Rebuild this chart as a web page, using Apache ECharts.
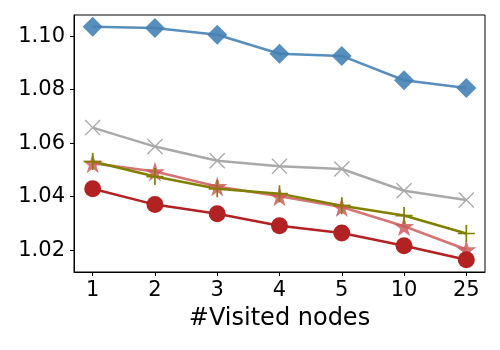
<!DOCTYPE html>
<html>
<head>
<meta charset="utf-8">
<script src="https://cdn.jsdelivr.net/npm/echarts@6/dist/echarts.min.js"></script>
<style>
  html, body { margin: 0; padding: 0; background: #fff; }
  #main { width: 500px; height: 350px; }
</style>
</head>
<body>
<div id="main"></div>
<script>
// x categories (evenly spaced positions)
var categories = ['1', '2', '3', '4', '5', '10', '25'];
var yTicks = [1.02, 1.04, 1.06, 1.08, 1.10];

// series values
var blueDiamond = [1.1035, 1.1030, 1.1005, 1.0934, 1.0926, 1.0835, 1.0806];
var grayCross   = [1.0658, 1.0587, 1.0534, 1.0513, 1.0503, 1.0422, 1.0387];
var pinkStar    = [1.0525, 1.0494, 1.0438, 1.0401, 1.0361, 1.0289, 1.0202];
var olivePlus   = [1.0531, 1.0475, 1.0429, 1.0411, 1.0366, 1.0329, 1.0262];
var redCircle   = [1.0429, 1.0370, 1.0336, 1.0291, 1.0264, 1.0216, 1.0164];

var STAR = 'path://M50,0 L61,35 L98,35 L68,57 L79,91 L50,70 L21,91 L32,57 L2,35 L39,35 Z';
var CROSS = 'path://M0,6 L6,0 L50,44 L94,0 L100,6 L56,50 L100,94 L94,100 L50,56 L6,100 L0,94 L44,50 Z';
var PLUS = 'path://M45,0 L55,0 L55,45 L100,45 L100,55 L55,55 L55,100 L45,100 L45,55 L0,55 L0,45 L45,45 Z';

function pairs(vals) {
  return vals.map(function (v, i) { return [i, v]; });
}

function line(vals, color, symbol, size) {
  return {
    type: 'line',
    data: pairs(vals),
    symbol: symbol,
    symbolSize: size,
    lineStyle: { color: color, width: 2.5 },
    itemStyle: { color: color },
    emphasis: { disabled: true }
  };
}

var positions = categories.map(function (c, i) { return i; });

var myChart = echarts.init(document.getElementById('main'));
myChart.setOption({
  animation: false,
  textStyle: { fontFamily: 'DejaVu Sans' },
  grid: {
    left: 74, right: 15, top: 15, bottom: 78,
    show: true, borderColor: '#000', borderWidth: 1
  },
  xAxis: {
    type: 'value',
    min: -0.3,
    max: 6.3,
    name: '#Visited nodes',
    nameLocation: 'middle',
    nameGap: 35,
    nameTextStyle: { fontSize: 24, color: '#000', fontFamily: 'DejaVu Sans' },
    axisLine: { show: true, onZero: false, lineStyle: { color: '#000', width: 1 } },
    axisTick: { show: true, inside: false, customValues: positions, length: 4, lineStyle: { color: '#000' } },
    axisLabel: {
      customValues: positions,
      fontSize: 21, color: '#000', margin: 8,
      formatter: function (v) { return categories[Math.round(v)]; }
    },
    splitLine: { show: false }
  },
  yAxis: {
    type: 'value',
    min: 1.0118,
    max: 1.1079,
    axisLine: { show: true, onZero: false, lineStyle: { color: '#000', width: 1 } },
    axisTick: { show: true, inside: false, customValues: yTicks, length: 4, lineStyle: { color: '#000' } },
    axisLabel: {
      customValues: yTicks,
      fontSize: 21, color: '#000', margin: 9,
      formatter: function (v) { return v.toFixed(2); }
    },
    splitLine: { show: false }
  },
  series: [
    line(blueDiamond, 'rgba(70,130,180,0.9)', 'diamond', 20),
    line(grayCross, '#a9a9a9', CROSS, 16),
    line(pinkStar, 'rgba(205,92,92,0.85)', STAR, 20),
    line(olivePlus, '#808000', PLUS, 17),
    line(redCircle, '#b22222', 'circle', 17)
  ]
});
</script>
</body>
</html>
